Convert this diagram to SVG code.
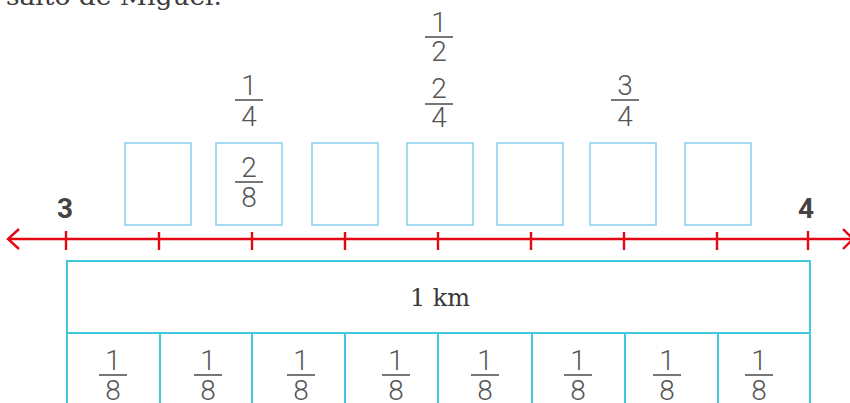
<svg xmlns="http://www.w3.org/2000/svg" width="850" height="403" viewBox="0 0 850 403">
  <defs>
    <style>
      .frac { font-family: Roboto, "Noto Sans", sans-serif; font-weight: 300; font-size: 28px; fill: #555; text-anchor: middle; }
      .bar { stroke: #555; stroke-width: 1.6; }
      .box { fill: #fff; stroke: #8fd3f2; stroke-width: 1.6; }
      .strip { fill: #fff; stroke: #3ec9dc; stroke-width: 2; }
      .axis { stroke: #e30613; stroke-width: 2.4; fill: none; }
      .end { font-family: Roboto, "Noto Sans", sans-serif; font-weight: 700; font-size: 28px; fill: #444; text-anchor: middle; }
      .serif { font-family: "DejaVu Serif", "Liberation Serif", serif; fill: #3a3a3a; }
    </style>
  </defs>

  <rect width="850" height="403" fill="#fff"/>

  <!-- running text, clipped at the top edge -->
  <text class="serif" x="6" y="5" font-size="24" textLength="216" lengthAdjust="spacingAndGlyphs">salto de Miguel.</text>

  <!-- fractions written above the boxes -->
  <g id="label-quarter">
    <text class="frac" x="249" y="95">1</text>
    <line class="bar" x1="235" y1="100" x2="263" y2="100"/>
    <text class="frac" x="249" y="126">4</text>
  </g>
  <g id="label-half">
    <text class="frac" x="439" y="32">1</text>
    <line class="bar" x1="425" y1="37" x2="453" y2="37"/>
    <text class="frac" x="439" y="61">2</text>
    <text class="frac" x="439" y="98">2</text>
    <line class="bar" x1="425" y1="104" x2="453" y2="104"/>
    <text class="frac" x="439" y="127">4</text>
  </g>
  <g id="label-three-quarters">
    <text class="frac" x="625" y="95">3</text>
    <line class="bar" x1="611" y1="100" x2="639" y2="100"/>
    <text class="frac" x="625" y="126">4</text>
  </g>

  <!-- answer boxes -->
  <g id="box-1"><rect class="box" x="125" y="143" width="66" height="82"/></g>
  <g id="box-2">
    <rect class="box" x="216" y="143" width="66" height="82"/>
    <text class="frac" x="249" y="177">2</text>
    <line class="bar" x1="235" y1="182" x2="263" y2="182"/>
    <text class="frac" x="249" y="207">8</text>
  </g>
  <g id="box-3"><rect class="box" x="312" y="143" width="66" height="82"/></g>
  <g id="box-4"><rect class="box" x="407" y="143" width="66" height="82"/></g>
  <g id="box-5"><rect class="box" x="497" y="143" width="66" height="82"/></g>
  <g id="box-6"><rect class="box" x="590" y="143" width="66" height="82"/></g>
  <g id="box-7"><rect class="box" x="685" y="143" width="66" height="82"/></g>

  <!-- number line -->
  <g id="number-line">
    <line class="axis" x1="8" y1="239" x2="850" y2="239"/>
    <polyline class="axis" points="19,229 8,239 19,249"/>
    <polyline class="axis" points="843,229 853,239 843,249"/>
    <g class="axis">
      <line x1="66" y1="231" x2="66" y2="250"/>
      <line x1="159" y1="232" x2="159" y2="250"/>
      <line x1="252" y1="232" x2="252" y2="250"/>
      <line x1="345" y1="232" x2="345" y2="250"/>
      <line x1="438" y1="232" x2="438" y2="250"/>
      <line x1="531" y1="232" x2="531" y2="250"/>
      <line x1="624" y1="232" x2="624" y2="250"/>
      <line x1="717" y1="232" x2="717" y2="250"/>
      <line x1="808" y1="231" x2="808" y2="250"/>
    </g>
    <text class="end" x="65" y="218">3</text>
    <text class="end" x="806" y="218">4</text>
  </g>

  <!-- 1 km strip split into eighths -->
  <g id="km-strip">
    <rect class="strip" x="67" y="261" width="743" height="72"/>
    <text class="serif" x="440" y="306" font-size="24" text-anchor="middle">1 km</text>
  </g>
  <g id="eighths">
    <path class="strip" fill="none" d="M67 333 V405 M160 333 V405 M252 333 V405 M345 333 V405 M438 333 V405 M532 333 V405 M625 333 V405 M718 333 V405 M810 333 V405"/>
    <g id="eighth-1"><text class="frac" x="113" y="370">1</text><line class="bar" x1="99" y1="375" x2="127" y2="375"/><text class="frac" x="113" y="400">8</text></g>
    <g id="eighth-2"><text class="frac" x="208" y="370">1</text><line class="bar" x1="194" y1="375" x2="222" y2="375"/><text class="frac" x="208" y="400">8</text></g>
    <g id="eighth-3"><text class="frac" x="301" y="370">1</text><line class="bar" x1="287" y1="375" x2="315" y2="375"/><text class="frac" x="301" y="400">8</text></g>
    <g id="eighth-4"><text class="frac" x="396" y="370">1</text><line class="bar" x1="382" y1="375" x2="410" y2="375"/><text class="frac" x="396" y="400">8</text></g>
    <g id="eighth-5"><text class="frac" x="485" y="370">1</text><line class="bar" x1="471" y1="375" x2="499" y2="375"/><text class="frac" x="485" y="400">8</text></g>
    <g id="eighth-6"><text class="frac" x="578" y="370">1</text><line class="bar" x1="564" y1="375" x2="592" y2="375"/><text class="frac" x="578" y="400">8</text></g>
    <g id="eighth-7"><text class="frac" x="667" y="370">1</text><line class="bar" x1="653" y1="375" x2="681" y2="375"/><text class="frac" x="667" y="400">8</text></g>
    <g id="eighth-8"><text class="frac" x="759" y="370">1</text><line class="bar" x1="745" y1="375" x2="773" y2="375"/><text class="frac" x="759" y="400">8</text></g>
  </g>
</svg>
